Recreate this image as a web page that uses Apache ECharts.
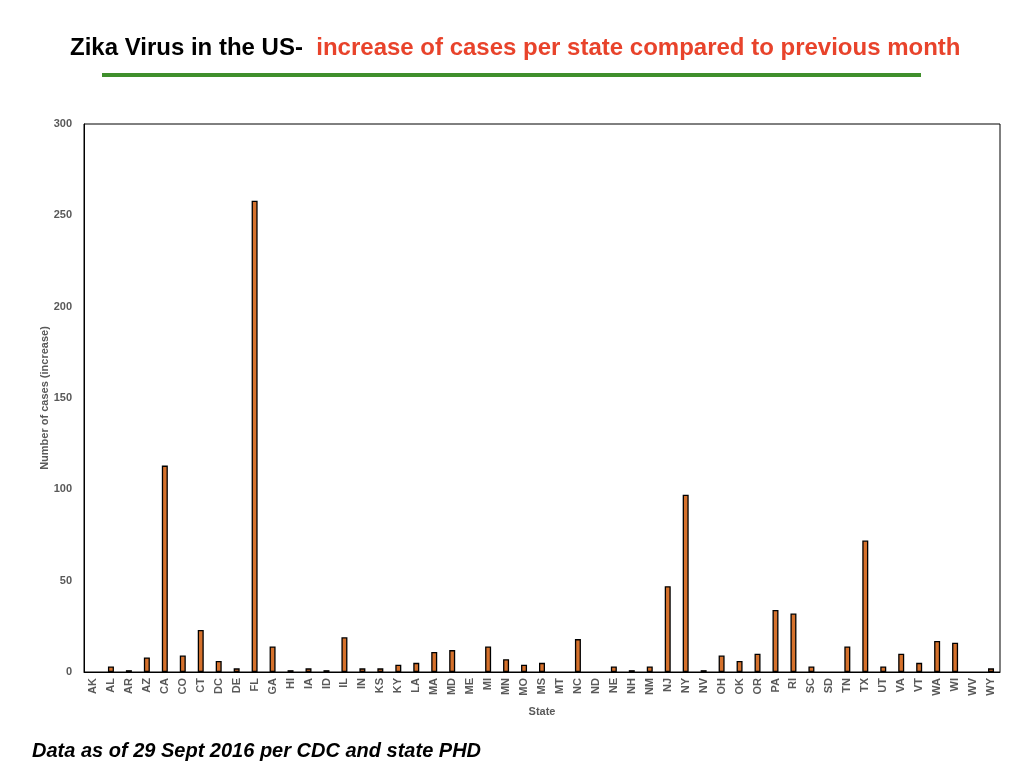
<!DOCTYPE html>
<html>
<head>
<meta charset="utf-8">
<title>Zika Virus in the US</title>
<script src="https://cdn.jsdelivr.net/npm/echarts@6/dist/echarts.min.js"></script>
<style>
    html, body { margin: 0; padding: 0; background: #fff; }
    #chart { width: 1024px; height: 768px; }
</style>
</head>
<body>
<div id="chart"></div>
<script>
// states on the x axis
const states = ['AK', 'AL', 'AR', 'AZ', 'CA', 'CO', 'CT', 'DC', 'DE', 'FL', 'GA', 'HI', 'IA', 'ID', 'IL', 'IN', 'KS',
    'KY', 'LA', 'MA', 'MD', 'ME', 'MI', 'MN', 'MO', 'MS', 'MT', 'NC', 'ND', 'NE', 'NH', 'NM', 'NJ', 'NY', 'NV',
    'OH', 'OK', 'OR', 'PA', 'RI', 'SC', 'SD', 'TN', 'TX', 'UT', 'VA', 'VT', 'WA', 'WI', 'WV', 'WY'];
// increase of cases vs previous month
const increase = [0, 3, 1, 8, 113, 9, 23, 6, 2, 258, 14, 1, 2, 1, 19, 2, 2,
    4, 5, 11, 12, 0, 14, 7, 4, 5, 0, 18, 0, 3, 1, 3, 47, 97, 1,
    9, 6, 10, 34, 32, 3, 0, 14, 72, 3, 10, 5, 17, 16, 0, 2];
const yTicks = { min: 0, max: 300, interval: 50 };

const chart = echarts.init(document.getElementById('chart'));
const grey = '#595959';
const font = 'Liberation Sans, Arial, sans-serif';

// zero bars get no outline, otherwise the border leaves a dash on the axis
const barData = increase.map(v => v === 0 ? { value: v, itemStyle: { borderWidth: 0 } } : v);

chart.setOption({
    animation: false,
    backgroundColor: '#fff',
    textStyle: { fontFamily: font },
    title: {
        left: 65,
        top: 31,
        text: '{a|Zika Virus in the US}{b|-  }{c|increase of cases per state compared to previous month}',
        textStyle: {
            rich: {
                a: { fontSize: 24, fontWeight: 'bold', color: '#000', fontFamily: font },
                b: { fontSize: 24, fontWeight: 'bold', color: '#000', fontFamily: font },
                c: { fontSize: 24, fontWeight: 'bold', color: '#e8432b', fontFamily: font }
            }
        }
    },
    graphic: [
        {
            type: 'rect',
            shape: { x: 102, y: 73, width: 819, height: 4 },
            style: { fill: '#3f8f2c' }
        },
        {
            type: 'text',
            left: 32,
            top: 741,
            style: {
                text: 'Data as of 29 Sept 2016 per CDC and state PHD',
                font: 'italic bold 20px ' + font,
                fill: '#000'
            }
        }
    ],
    grid: {
        left: 84,
        right: 24,
        top: 124,
        bottom: 96,
        show: true,
        borderColor: '#000',
        borderWidth: 1
    },
    xAxis: {
        type: 'category',
        data: states,
        name: 'State',
        nameLocation: 'middle',
        nameGap: 34,
        nameMoveOverlap: false,
        nameTextStyle: { color: grey, fontWeight: 'bold', fontSize: 11 },
        axisLine: { lineStyle: { color: '#000' } },
        axisTick: { show: false },
        axisLabel: { rotate: 90, color: grey, fontWeight: 'bold', fontSize: 11, interval: 0, margin: 6 }
    },
    yAxis: {
        type: 'value',
        min: yTicks.min,
        max: yTicks.max,
        interval: yTicks.interval,
        name: 'Number of cases (increase)',
        nameLocation: 'middle',
        nameGap: 34,
        nameMoveOverlap: false,
        nameTextStyle: { color: grey, fontWeight: 'bold', fontSize: 11 },
        axisLine: { show: true, lineStyle: { color: '#000' } },
        axisTick: { show: false },
        splitLine: { show: false },
        axisLabel: { color: grey, fontWeight: 'bold', fontSize: 11, margin: 12 }
    },
    series: [{
        type: 'bar',
        data: barData,
        barWidth: 6,
        itemStyle: { color: '#d5712c', borderColor: '#000', borderWidth: 1.3 }
    }]
});
</script>
</body>
</html>
